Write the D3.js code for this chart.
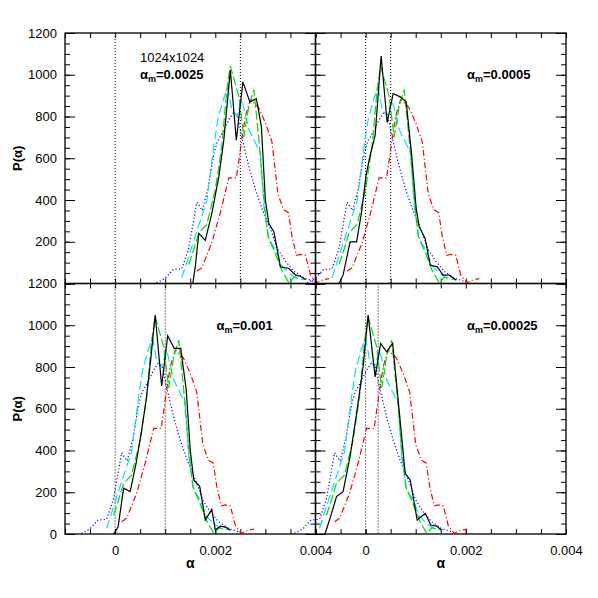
<!DOCTYPE html>
<html>
<head>
<meta charset="utf-8">
<script src="https://cdn.jsdelivr.net/npm/d3@7"></script>
<style>
  body { margin: 0; background: #fff; }
  text { font-family: "Liberation Sans", Arial, sans-serif; }
</style>
</head>
<body>
<div id="chart_area"></div>
<script>
// panel values of alpha_m (top-left, top-right, bottom-left, bottom-right)
var alphaM = [0.0025, 0.0005, 0.001, 0.00025];
var panelText = ["\u03b1m=0.0025", "\u03b1m=0.0005", "\u03b1m=0.001", "\u03b1m=0.00025"];

// black solid curve, read per panel (alpha, P)
var blackTL_a = [0.00155,0.0016,0.00167,0.0018,0.00193,0.00207,0.00217,0.0023,0.00242,0.00255,0.00269,0.00282,0.00292,0.003,0.00307,0.00317,0.0033,0.00347,0.0036,0.0037,0.0038];
var blackTL_p = [0,80,240,207,335,511,686,1022,686,966,870,886,750,399,287,247,80,72,40,35,19];
var blackTR_a = [-0.00053,-0.00045,-0.00031,-0.00018,-0.00008,0.00001,0.00009,0.00019,0.00031,0.00043,0.00055,0.00069,0.00081,0.00092,0.00101,0.00107,0.00119,0.00129,0.00143,0.00155,0.00167,0.00181];
var blackTR_p = [0,40,199,199,343,519,614,710,1090,771,910,894,870,614,359,271,215,88,80,40,40,16];
var blackBL_a = [-0.00003,0.00006,0.00017,0.0003,0.00042,0.00052,0.00062,0.00071,0.0008,0.00093,0.00105,0.00118,0.00131,0.00142,0.0015,0.00157,0.00169,0.0018,0.00193,0.002,0.0021,0.0022,0.0023];
var blackBL_p = [0,35,219,203,339,482,642,833,1049,709,950,889,889,690,402,259,227,67,118,19,38,33,19];
var blackBR_a = [-0.00081,-0.00068,-0.00058,-0.00045,-0.00031,-0.00018,-0.00005,0.00005,0.00019,0.0003,0.00042,0.00054,0.00065,0.00079,0.00089,0.00103,0.00119,0.0013,0.00142,0.00151];
var blackBR_p = [0,99,179,203,370,578,801,1049,753,913,873,913,642,291,259,67,99,43,38,19];

// other curves, read as offsets alpha - alpha_m (same shape in every panel)
var greenOff = [-0.00103,-0.00093,-0.00083,-0.00067,-0.0005,-0.00037,-0.00027,-0.0002,-0.00003,0.00007,0.00017,0.00027,0.00037,0.00047,0.00055,0.00068,0.00082,0.00097,0.00108,0.00122];
var greenP   = [91,163,243,283,450,658,929,1041,897,700,849,929,690,410,227,155,67,3,31,19];
var cyanOff = [-0.00117,-0.00103,-0.00087,-0.00067,-0.00053,-0.00045,-0.00033,-0.00025,-0.00017,-0.00007,0.00003,0.00017,0.0003,0.0004,0.00047,0.00057,0.0007,0.00083,0.00097,0.0011,0.0013];
var cyanP   = [27,131,250,394,658,785,889,937,833,801,881,738,674,626,370,211,163,83,51,27,19];
var blueOff = [-0.00167,-0.0015,-0.00134,-0.00117,-0.00103,-0.00087,-0.00076,-0.00065,-0.00053,-0.00046,-0.00034,-0.00023,-0.00014,-0.00006,0.00003,0.00017,0.0003,0.00043,0.00062,0.00075,0.0009,0.00106,0.00126,0.00146];
var blueP   = [3,25,67,70,170,389,350,450,620,680,730,785,817,805,700,560,450,360,250,163,107,60,27,11];
var redOff = [-0.00087,-0.00077,-0.00057,-0.0004,-0.00023,-0.00008,0.00003,0.0001,0.0002,0.00036,0.0005,0.00063,0.00075,0.00086,0.00096,0.00103,0.00112,0.0012,0.0013,0.0014,0.00152,0.00166,0.00177];
var redP   = [59,75,195,339,506,506,690,801,881,845,770,680,430,354,339,227,135,139,135,40,3,19,23];

var yMajor = [0,200,400,600,800,1000,1200];
var xLabels = [0,0.002,0.004];

var blackA = [blackTL_a, blackTR_a, blackBL_a, blackBR_a];
var blackP = [blackTL_p, blackTR_p, blackBL_p, blackBR_p];

var sFrame = d3.select("#chart_area").append("svg").attr("width",598).attr("height",598);

var pLeft = [65, 315.5], pTop = [33, 283.5];
var pw = 250.5, ph = 250.5;

var x = d3.scaleLinear().domain([-0.001,0.004]).range([0,pw]);
var y = d3.scaleLinear().domain([0,1200]).range([ph,0]);

var xMinor = d3.range(-2,9).map(function(i){ return i*0.0005; });
var yMinor = d3.range(0,25).map(function(i){ return i*50; });

var line = d3.line().x(function(d){ return x(d[0]); }).y(function(d){ return y(d[1]); });

function zip(a,p,off){ return a.map(function(v,i){ return [v+off,p[i]]; }); }

var styles = [
  {off:blueOff, p:blueP, color:"#0000ff", dash:"1.2,2.2"},
  {off:redOff, p:redP, color:"#ff0000", dash:"6,2.5,1.2,2.5"},
  {off:cyanOff, p:cyanP, color:"#00e4f0", dash:"9,4"},
  {off:greenOff, p:greenP, color:"#00dd00", dash:"9,3"}
];

alphaM.forEach(function(am, k){
  var row = Math.floor(k/2), col = k%2;
  var g = sFrame.append("g").attr("transform","translate("+pLeft[col]+","+pTop[row]+")");

  // inward ticks on all four sides
  function axisStyle(sel){ sel.select(".domain").remove(); sel.selectAll("line").attr("stroke","#000"); sel.selectAll("text").attr("font-size",13).attr("fill","#000"); }

  g.append("g").attr("transform","translate(0,"+ph+")")
    .call(d3.axisBottom(x).tickValues(xMinor).tickSizeInner(-5).tickSizeOuter(0).tickFormat(""))
    .call(axisStyle);
  g.append("g")
    .call(d3.axisTop(x).tickValues(xMinor).tickSizeInner(-5).tickSizeOuter(0).tickFormat(""))
    .call(axisStyle);
  g.append("g")
    .call(d3.axisLeft(y).tickValues(yMinor).tickSizeInner(-5).tickSizeOuter(0).tickFormat(""))
    .call(axisStyle);
  g.append("g")
    .call(d3.axisLeft(y).tickValues(yMajor).tickSizeInner(-10).tickSizeOuter(0).tickPadding(8)
      .tickFormat(function(d){ return (col===0 && !(row===0 && d===0)) ? d : ""; }))
    .call(axisStyle);
  g.append("g").attr("transform","translate("+pw+",0)")
    .call(d3.axisRight(y).tickValues(yMinor).tickSizeInner(-5).tickSizeOuter(0).tickFormat(""))
    .call(axisStyle);
  g.append("g").attr("transform","translate("+pw+",0)")
    .call(d3.axisRight(y).tickValues(yMajor).tickSizeInner(-10).tickSizeOuter(0).tickFormat(""))
    .call(axisStyle);
  if (row===1) {
    g.append("g").attr("transform","translate(0,"+ph+")")
      .call(d3.axisBottom(x).tickValues(xLabels).tickSizeInner(-5).tickSizeOuter(0).tickPadding(12)
        .tickFormat(function(d){ return d===0 ? "0" : d3.format(".3f")(d); }))
      .call(axisStyle);
    g.append("text").attr("x",pw/2).attr("y",ph+34).attr("text-anchor","middle")
      .attr("font-size",14).attr("font-weight","bold").text("\u03b1");
  }
  if (col===0) {
    g.append("text").attr("transform","translate("+(22-pLeft[0])+","+(ph/2)+") rotate(-90)")
      .attr("text-anchor","middle").attr("font-size",13).attr("font-weight","bold").text("P(\u03b1)");
  }

  // frame
  g.append("rect").attr("width",pw).attr("height",ph).attr("fill","none").attr("stroke","#000").attr("stroke-width",1.3);

  // dotted reference lines at 0 and alpha_m
  [0, am].forEach(function(v){
    g.append("line").attr("x1",x(v)).attr("x2",x(v)).attr("y1",0).attr("y2",ph)
      .attr("stroke","#000").attr("stroke-width",1).attr("stroke-dasharray","1,2");
  });

  styles.forEach(function(s){
    g.append("path").datum(zip(s.off, s.p, am)).attr("d",line)
      .attr("fill","none").attr("stroke",s.color).attr("stroke-width",1.2).attr("stroke-dasharray",s.dash);
  });
  g.append("path").datum(zip(blackA[k], blackP[k], 0)).attr("d",line)
    .attr("fill","none").attr("stroke","#000").attr("stroke-width",1.2);

  // annotation
  var tx = (k===0) ? 75 : 151.5;
  if (k===0) {
    g.append("text").attr("x",tx).attr("y",29).attr("font-size",13).text("1024x1024");
  }
  var t = g.append("text").attr("x",tx).attr("y",46).attr("font-size",13).attr("font-weight","bold");
  t.append("tspan").text("\u03b1");
  t.append("tspan").attr("font-size",9).attr("dy",3).text("m");
  t.append("tspan").attr("dy",-3).text(panelText[k].slice(2));
});
</script>
</body>
</html>
